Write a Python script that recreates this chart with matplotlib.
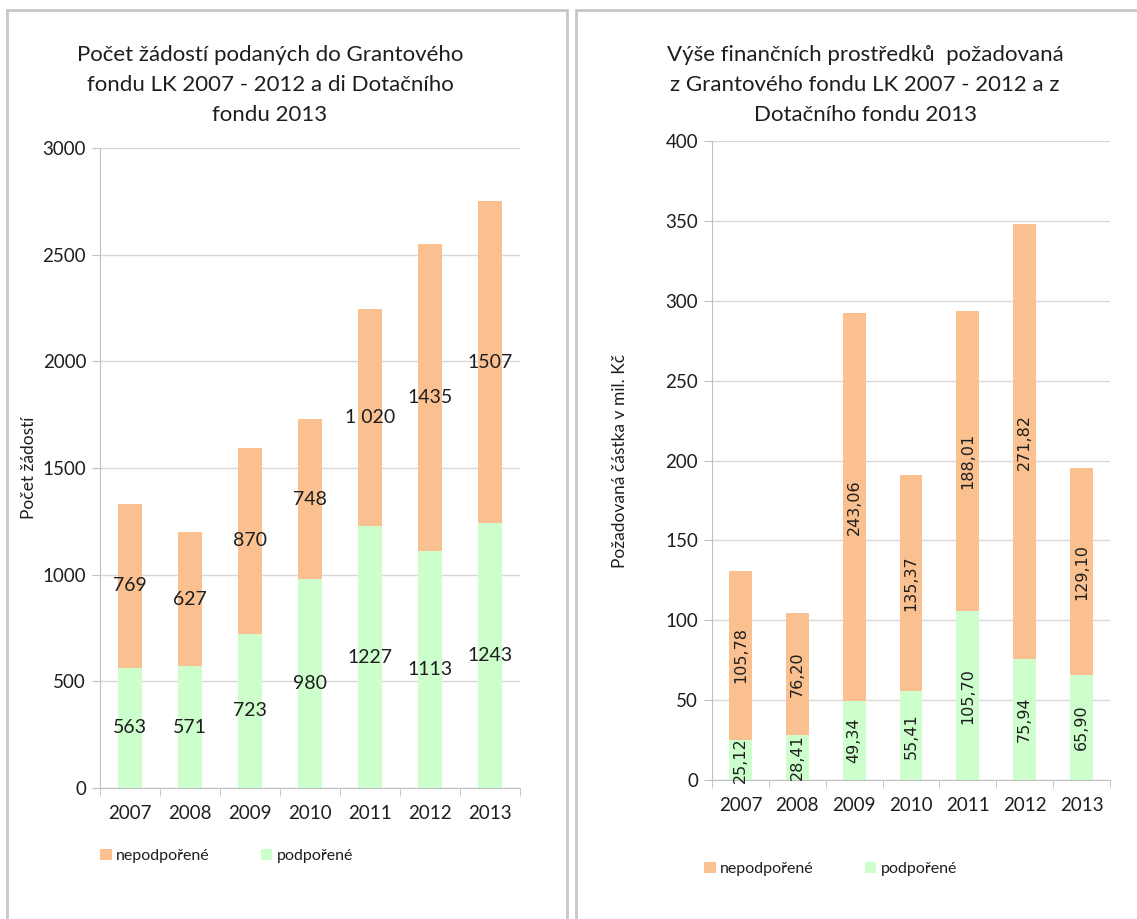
import matplotlib
matplotlib.use("Agg")
import matplotlib.pyplot as plt
from matplotlib.patches import Rectangle, Patch
from matplotlib.ticker import FixedLocator, NullFormatter

years = ["2007", "2008", "2009", "2010", "2011", "2012", "2013"]

# left chart: number of applications
count_supported = [563, 571, 723, 980, 1227, 1113, 1243]
count_rejected = [769, 627, 870, 748, 1020, 1435, 1507]
count_rejected_labels = ["769", "627", "870", "748", "1 020", "1435", "1507"]

# right chart: requested amount (mil. Kč)
money_supported = [25.12, 28.41, 49.34, 55.41, 105.70, 75.94, 65.90]
money_rejected = [105.78, 76.20, 243.06, 135.37, 188.01, 271.82, 129.10]

ORANGE = "#FAC090"
GREEN = "#CCFFCC"
GRID = "#D9D9D9"
AXIS = "#BFBFBF"
TXT = "#1E1E1E"
FONT = ["Lato", "DejaVu Sans"]

plt.rcParams["font.family"] = FONT

W, H = 1137, 919
fig = plt.figure(figsize=(W / 100, H / 100), dpi=100)
fig.patch.set_facecolor("white")


def px(x0, y0, x1, y1):
    """pixel box (top-left origin) -> figure fraction rect"""
    return [x0 / W, 1 - y1 / H, (x1 - x0) / W, (y1 - y0) / H]


# panel frames
for x0, x1 in [(7, 567), (576, 1160)]:
    fig.patches.append(Rectangle((x0 / W, -0.05), (x1 - x0) / W, 1.05 - 10 / H,
                                 transform=fig.transFigure, fill=False,
                                 edgecolor="#C8C8C8", lw=2))


def style_axes(ax, ymax, step):
    xs = range(len(years))
    ax.set_xlim(-0.5, len(years) - 0.5)
    ax.set_ylim(0, ymax)
    ax.set_yticks(range(0, ymax + 1, step))
    ax.yaxis.grid(True, color=GRID, lw=1)
    ax.set_axisbelow(True)
    for s in ["top", "right"]:
        ax.spines[s].set_visible(False)
    for s in ["left", "bottom"]:
        ax.spines[s].set_color(AXIS)
    ax.set_xticks(list(xs))
    ax.set_xticklabels(years)
    ax.xaxis.set_minor_locator(FixedLocator([i - 0.5 for i in range(len(years) + 1)]))
    ax.xaxis.set_minor_formatter(NullFormatter())
    ax.tick_params(axis="x", which="major", length=0, pad=12, labelsize=13.5, labelcolor=TXT)
    ax.tick_params(axis="x", which="minor", length=6, color=AXIS)
    ax.tick_params(axis="y", length=6, color=AXIS, labelsize=13.5, labelcolor=TXT, pad=4)


def add_legend(ax, x, y):
    handles = [Patch(facecolor=ORANGE, edgecolor="none", label="nepodpořené"),
               Patch(facecolor=GREEN, edgecolor="none", label="podpořené")]
    ax.legend(handles=handles, loc="center left", bbox_to_anchor=(x / W, 1 - y / H),
              bbox_transform=fig.transFigure, ncol=2, frameon=False,
              handlelength=0.7, handleheight=0.7, handletextpad=0.3,
              columnspacing=3.2, fontsize=11.5, labelcolor=TXT)


# ---- left chart ----
ax1 = fig.add_axes(px(100, 148, 520, 788))
x = list(range(len(years)))
b1 = ax1.bar(x, count_supported, width=0.4, color=GREEN)
b2 = ax1.bar(x, count_rejected, width=0.4, bottom=count_supported, color=ORANGE)
ax1.bar_label(b1, labels=[str(v) for v in count_supported], label_type="center",
              fontsize=14, color=TXT)
ax1.bar_label(b2, labels=count_rejected_labels, label_type="center",
              fontsize=14, color=TXT)
style_axes(ax1, 3000, 500)
ax1.set_ylabel("Počet žádostí", fontsize=12.5, color=TXT, labelpad=4)
fig.text(270 / W, 1 - 85 / H,
         "Počet žádostí podaných do Grantového\nfondu LK 2007 - 2012 a di Dotačního\nfondu 2013",
         ha="center", va="center", fontsize=16, color=TXT, linespacing=1.65)
add_legend(ax1, 86, 856)

# ---- right chart ----
ax2 = fig.add_axes(px(712, 141, 1110, 780))
c1 = ax2.bar(x, money_supported, width=0.4, color=GREEN)
c2 = ax2.bar(x, money_rejected, width=0.4, bottom=money_supported, color=ORANGE)
fmt = lambda vals: [f"{v:.2f}".replace(".", ",") for v in vals]
ax2.bar_label(c1, labels=fmt(money_supported), label_type="center", rotation=90,
              fontsize=11.5, color=TXT, family="DejaVu Sans")
ax2.bar_label(c2, labels=fmt(money_rejected), label_type="center", rotation=90,
              fontsize=11.5, color=TXT, family="DejaVu Sans")
style_axes(ax2, 400, 50)
ax2.set_ylabel("Požadovaná částka v mil. Kč", fontsize=12.5, color=TXT, labelpad=27)
fig.text(865 / W, 1 - 85 / H,
         "Výše finančních prostředků  požadovaná\nz Grantového fondu LK 2007 - 2012 a z\nDotačního fondu 2013",
         ha="center", va="center", fontsize=16, color=TXT, linespacing=1.65)
add_legend(ax2, 690, 869)

fig.savefig("out.png", dpi=100, facecolor="white")
